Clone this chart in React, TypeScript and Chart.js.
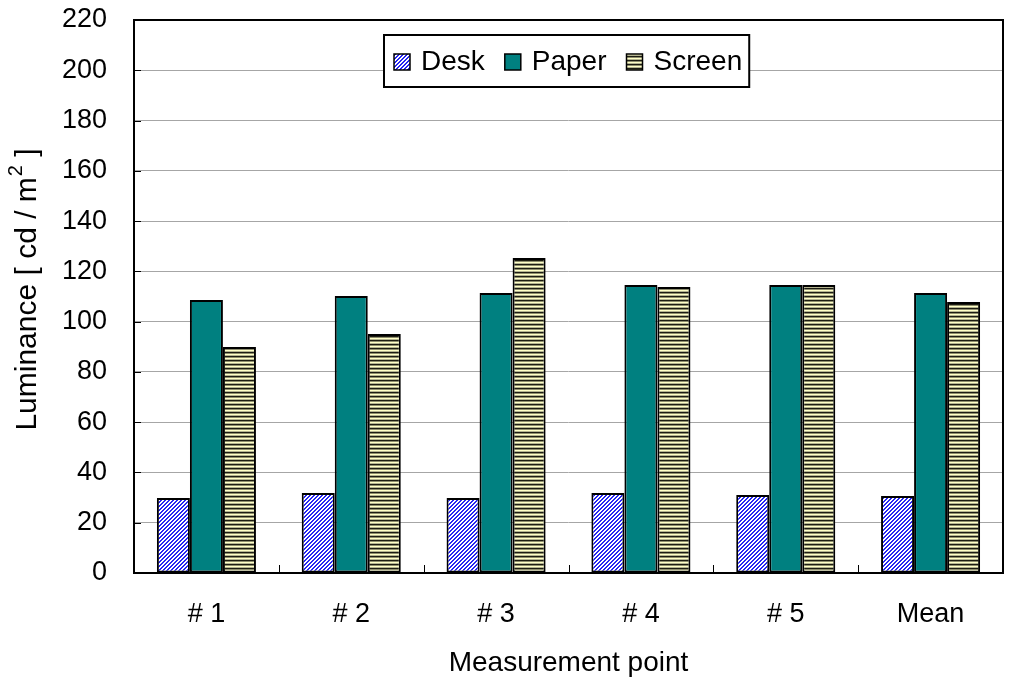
import React, { useEffect, useRef } from "react";
import { Chart, registerables } from "chart.js";

Chart.register(...registerables);

const categories = ["# 1", "# 2", "# 3", "# 4", "# 5", "Mean"];
const seriesLabels = ["Desk", "Paper", "Screen"];
const deskValues = [29.8, 31.8, 29.8, 31.8, 31.0, 30.6];
const paperValues = [108.6, 110.2, 111.4, 114.6, 114.6, 111.4];
const screenValues = [89.9, 95.1, 125.3, 113.8, 114.6, 107.8];
const yMin = 0;
const yMax = 220;
const yStep = 20;
const yTitleMain = "Luminance [ cd / m";
const yTitleSup = "2";
const yTitleEnd = " ]";
const xTitle = "Measurement point";

const FONT = "'Liberation Sans', Arial, Helvetica, sans-serif";

function makeTile(ctx: CanvasRenderingContext2D, w: number, h: number, draw: (g: CanvasRenderingContext2D) => void) {
  const c = document.createElement("canvas");
  c.width = w;
  c.height = h;
  const g = c.getContext("2d")!;
  draw(g);
  return ctx.createPattern(c, "repeat")!;
}

export default function App() {
  const ref = useRef<HTMLCanvasElement | null>(null);

  useEffect(() => {
    document.body.style.margin = "0";
    const canvas = ref.current!;
    const ctx = canvas.getContext("2d")!;

    const deskPattern = makeTile(ctx, 4, 4, (g) => {
      g.fillStyle = "#ffffff";
      g.fillRect(0, 0, 4, 4);
      g.fillStyle = "#2626f2";
      for (let y = 0; y < 4; y++)
        for (let x = 0; x < 4; x++)
          if ((x + y) % 4 < 2) g.fillRect(x, y, 1, 1);
    });
    const screenPattern = makeTile(ctx, 4, 4, (g) => {
      const rows = ["#1c1c12", "#8e8e6e", "#ffffc6", "#b4b490"];
      rows.forEach((c, i) => {
        g.fillStyle = c;
        g.fillRect(0, i, 4, 1);
      });
    });
    const paperColor = "#008080";

    const decorPlugin = {
      id: "decor",
      afterDatasetsDraw(chart: any) {
        const c = chart.ctx as CanvasRenderingContext2D;
        const a = chart.chartArea;
        const xs = chart.scales.x;
        const ys = chart.scales.y;
        c.save();
        c.strokeStyle = "#000";
        c.lineWidth = 1;
        ys.ticks.forEach((t: any) => {
          const py = Math.round(ys.getPixelForValue(t.value)) + 0.5;
          c.beginPath();
          c.moveTo(a.left, py);
          c.lineTo(a.left + 7, py);
          c.stroke();
        });
        const n = categories.length;
        const w = (a.right - a.left) / n;
        for (let i = 1; i < n; i++) {
          const px = Math.round(xs.getPixelForValue(i) - w / 2) + 0.5;
          c.beginPath();
          c.moveTo(px, a.bottom);
          c.lineTo(px, a.bottom - 8);
          c.stroke();
        }
        c.lineWidth = 2;
        c.strokeRect(a.left, a.top, a.right - a.left, a.bottom - a.top);
        c.restore();
      },
      afterDraw(chart: any) {
        const c = chart.ctx as CanvasRenderingContext2D;
        const a = chart.chartArea;
        c.save();
        c.fillStyle = "#000";
        c.translate(28, 290);
        c.rotate(-Math.PI / 2);
        c.font = `30px ${FONT}`;
        const w1 = c.measureText(yTitleMain).width;
        const w3 = c.measureText(yTitleEnd).width;
        c.font = `20px ${FONT}`;
        const w2 = c.measureText(yTitleSup).width;
        const total = w1 + w2 + w3;
        let sx = -total / 2;
        c.textBaseline = "middle";
        c.textAlign = "left";
        c.font = `30px ${FONT}`;
        c.fillText(yTitleMain, sx, 0);
        sx += w1;
        c.font = `20px ${FONT}`;
        c.fillText(yTitleSup, sx + 1, -12);
        sx += w2;
        c.font = `30px ${FONT}`;
        c.fillText(yTitleEnd, sx + 1, 0);
        c.restore();

        c.save();
        c.fillStyle = "#000";
        c.font = `28px ${FONT}`;
        c.textAlign = "center";
        c.textBaseline = "middle";
        c.fillText(xTitle, (a.left + a.right) / 2, 663);
        c.restore();

        c.save();
        c.font = `28px ${FONT}`;
        const sw = 16;
        const gapText = 11;
        const gapItem = 20;
        const padL = 10;
        const padR = 7;
        const ds = chart.data.datasets;
        const widths = ds.map((d: any) => c.measureText(d.label).width);
        let tw = padL + padR;
        widths.forEach((wd: number, i: number) => {
          tw += sw + gapText + wd + (i < widths.length - 1 ? gapItem : 0);
        });
        const bx = Math.round((a.left + a.right) / 2 - 2 - tw / 2);
        const by = 35;
        const bh = 52;
        c.fillStyle = "#fff";
        c.fillRect(bx, by, tw, bh);
        c.strokeStyle = "#000";
        c.lineWidth = 2;
        c.strokeRect(bx, by, tw, bh);
        let x = bx + padL;
        const cy = by + bh / 2;
        ds.forEach((d: any, i: number) => {
          c.fillStyle = d.backgroundColor;
          c.fillRect(x, cy - sw / 2 + 1, sw, sw);
          c.lineWidth = 1.5;
          c.strokeStyle = "#000";
          c.strokeRect(x, cy - sw / 2 + 1, sw, sw);
          x += sw + gapText;
          c.fillStyle = "#000";
          c.textBaseline = "middle";
          c.textAlign = "left";
          c.fillText(d.label, x, cy + 1);
          x += widths[i] + gapItem;
        });
        c.restore();
      },
    };

    const chart = new Chart(canvas, {
      type: "bar",
      data: {
        labels: categories,
        datasets: [
          { label: seriesLabels[0], data: deskValues, backgroundColor: deskPattern as any },
          { label: seriesLabels[1], data: paperValues, backgroundColor: paperColor },
          { label: seriesLabels[2], data: screenValues, backgroundColor: screenPattern as any },
        ].map((d) => ({
          ...d,
          borderColor: "#000",
          borderWidth: 2,
          borderSkipped: false as any,
          categoryPercentage: 0.684,
          barPercentage: 1,
        })),
      },
      options: {
        responsive: false,
        animation: false,
        layout: { padding: { top: 20, right: 21, left: 0, bottom: 0 } },
        plugins: {
          legend: { display: false },
          tooltip: { enabled: false },
          title: { display: false },
        },
        scales: {
          x: {
            grid: { display: false, drawTicks: false },
            border: { display: false },
            ticks: {
              color: "#000",
              font: { family: FONT, size: 27 },
              padding: 25,
              maxRotation: 0,
            },
            afterFit: (s: any) => {
              s.height = 112;
            },
          },
          y: {
            min: yMin,
            max: yMax,
            grid: {
              color: "#a6a6a6",
              lineWidth: 1,
              drawTicks: true,
              tickLength: 27,
              tickColor: "rgba(0,0,0,0)",
            },
            border: { display: false },
            ticks: {
              stepSize: yStep,
              color: "#000",
              font: { family: FONT, size: 27 },
              padding: 0,
            },
            afterFit: (s: any) => {
              s.width = 134;
            },
          },
        },
      },
      plugins: [decorPlugin],
    });

    return () => chart.destroy();
  }, []);

  return (
    <div style={{ width: 1024, height: 685 }}>
      <canvas ref={ref} width={1024} height={685} style={{ display: "block" }} />
    </div>
  );
}
